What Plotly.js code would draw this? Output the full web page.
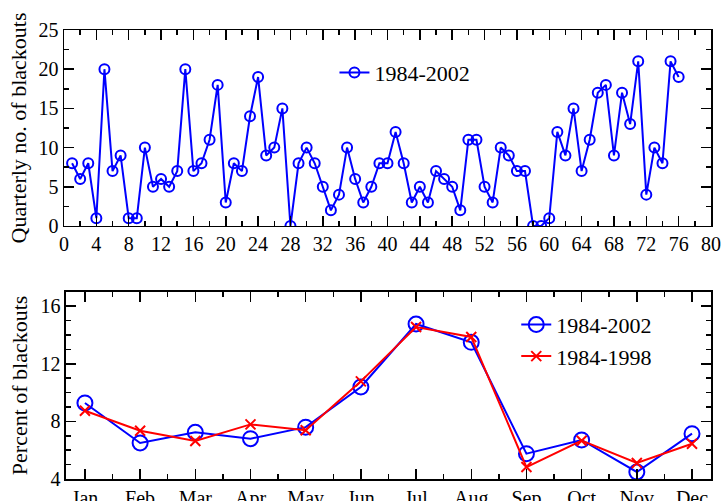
<!DOCTYPE html>
<html><head><meta charset="utf-8">
<script src="https://cdn.plot.ly/plotly-3.0.1.min.js"></script>
<style>html,body{margin:0;padding:0;background:#fff}#c{width:724px;height:501px}
#c text{font-family:"Liberation Serif","Times New Roman",serif !important;}</style>
</head><body><div id="c"></div>
<script>
// Top panel: quarterly number of blackouts (quarters 1..76)
const quarters = Array.from({length:76},(_,i)=>i+1);
const quarterlyCounts = [8,6,8,1,20,7,9,1,1,10,5,6,5,7,20,7,8,11,18,3,
  8,7,14,19,9,10,15,0,8,10,8,5,2,4,10,6,3,5,8,8,
  12,8,3,5,3,7,6,5,2,11,11,5,3,10,9,7,7,0,0,1,
  12,9,15,7,11,17,18,9,17,13,21,4,10,8,21,19];
// Bottom panel: monthly percent of blackouts
const months = ["Jan","Feb","Mar","Apr","May","Jun","Jul","Aug","Sep","Oct","Nov","Dec"];
const pct8402 = [9.28,6.5,7.24,6.8,7.6,10.39,14.76,13.49,5.76,6.71,4.49,7.15];
const pct8498 = [8.74,7.35,6.64,7.79,7.38,10.78,14.55,13.86,4.83,6.66,5.11,6.45];
const seriesNames = ["1984-2002","1984-1998"];

const serifFam = "Liberation Serif";
const monthIdx = months.map((_,i)=>i+1);

const traces = [
  {x:quarters, y:quarterlyCounts, type:'scatter', mode:'lines+markers', name:seriesNames[0],
   xaxis:'x', yaxis:'y', legend:'legend',
   line:{color:'#0000ff', width:2}, marker:{symbol:'circle-open', size:10, color:'#0000ff', line:{width:2}}},
  {x:monthIdx, y:pct8402, type:'scatter', mode:'lines+markers', name:seriesNames[0],
   xaxis:'x2', yaxis:'y2', legend:'legend2',
   line:{color:'#0000ff', width:2}, marker:{symbol:'circle-open', size:15, color:'#0000ff', line:{width:2}}},
  {x:monthIdx, y:pct8498, type:'scatter', mode:'lines+markers', name:seriesNames[1],
   xaxis:'x2', yaxis:'y2', legend:'legend2',
   line:{color:'#ff0000', width:2}, marker:{symbol:'x-thin-open', size:10, color:'#ff0000', line:{width:2, color:'#ff0000'}}}
];

const axBase = {showline:true, linecolor:'#000', linewidth:1.5, mirror:'allticks', ticks:'inside',
  tickcolor:'#000', tickwidth:1.5, ticklen:10, showgrid:false, zeroline:false,
  tickfont:{family:serifFam, size:20, color:'#000'}};

const layout = {
  width:724, height:501, margin:{l:64, r:13, t:30, b:22},
  paper_bgcolor:'#fff', plot_bgcolor:'#fff', font:{family:serifFam, size:20, color:'#000'},
  showlegend:true,
  xaxis:Object.assign({}, axBase, {domain:[0,1], range:[0,80], dtick:4, tick0:0, anchor:'y',
    minor:{ticks:'inside', dtick:2, ticklen:5, tickcolor:'#000', tickwidth:1.5}}),
  yaxis:Object.assign({}, axBase, {domain:[0.5635,1], range:[0,25], dtick:5, tick0:0, anchor:'x',
    minor:{ticks:'inside', dtick:2.5, ticklen:5, tickcolor:'#000', tickwidth:1.5},
    title:{text:'Quarterly no. of blackouts', font:{family:serifFam, size:22, color:'#000'}, standoff:6}}),
  xaxis2:Object.assign({}, axBase, {domain:[0.003,1], range:[0.656,12.344], anchor:'y2',
    tickmode:'array', tickvals:monthIdx, ticktext:months,
    minor:{ticks:'inside', tickvals:[1.5,2.5,3.5,4.5,5.5,6.5,7.5,8.5,9.5,10.5,11.5,0.5,12.5], ticklen:5, tickcolor:'#000', tickwidth:1.5}}),
  yaxis2:Object.assign({}, axBase, {domain:[0,0.417], range:[4,17], dtick:4, tick0:4, anchor:'x2',
    minor:{ticks:'inside', dtick:1, ticklen:5, tickcolor:'#000', tickwidth:1.5},
    title:{text:'Percent of blackouts', font:{family:serifFam, size:22, color:'#000'}, standoff:6}}),
  legend:{x:0.418, y:0.905, xanchor:'left', yanchor:'middle', bgcolor:'rgba(0,0,0,0)',
    font:{family:serifFam, size:22, color:'#000'}, itemwidth:30},
  legend2:{x:0.699, y:0.308, xanchor:'left', yanchor:'middle', bgcolor:'rgba(0,0,0,0)',
    font:{family:serifFam, size:22, color:'#000'}, itemwidth:30, tracegroupgap:0}
};

Plotly.newPlot('c', traces, layout, {displayModeBar:false, staticPlot:true});
</script></body></html>
